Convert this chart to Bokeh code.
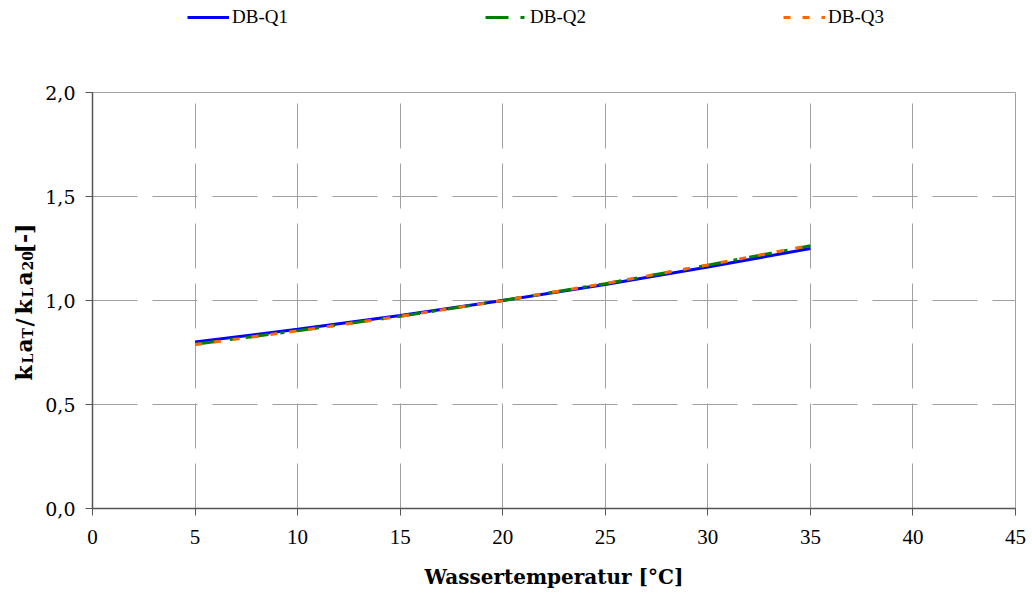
import math
from bokeh.plotting import figure
from bokeh.layouts import column, row
from bokeh.models import Legend, LegendItem, Label, FixedTicker, Range1d
from bokeh.embed import file_html
from bokeh.resources import INLINE

# ---- data ----
temperature = [5, 10, 15, 20, 25, 30, 35]
db_q1 = [0.800, 0.862, 0.928, 1.000, 1.077, 1.161, 1.250]
db_q2 = [0.790, 0.855, 0.924, 1.000, 1.081, 1.170, 1.263]
db_q3 = [0.788, 0.854, 0.924, 1.000, 1.082, 1.171, 1.265]
series_names = ["DB-Q1", "DB-Q2", "DB-Q3"]
x_ticks = [0, 5, 10, 15, 20, 25, 30, 35, 40, 45]
y_ticks = [0.0, 0.5, 1.0, 1.5, 2.0]
y_tick_labels = ["0,0", "0,5", "1,0", "1,5", "2,0"]
x_title = "Wassertemperatur [°C]"
y_title_pieces = ["k", "L", "a", "T", "/", "k", "L", "a", "20", "[-]"]
y_title_is_sub = [False, True, False, True, False, False, True, False, True, False]

colors = ["#0000ff", "#008000", "#ff6600"]
dashes = ["solid", "23 12 4 12", "7 12"]

W, H = 1032, 597
TOP_H = 40
LEFT_W = 42
FRAME_L, FRAME_R, FRAME_T, FRAME_B = 92, 1015, 92, 508
# where each piece of the y title begins (canvas pixels, text reads upward)
y_title_starts = [380, 363, 352, 338, 326, 314, 297, 285, 270, 253]


def bare_figure(w, h):
    fig = figure(width=w, height=h, output_backend="svg", toolbar_location=None,
                 x_range=Range1d(0, 1), y_range=Range1d(0, 1),
                 x_axis_type=None, y_axis_type=None, min_border=0)
    fig.grid.visible = False
    fig.outline_line_color = None
    fig.background_fill_color = "white"
    fig.border_fill_color = "white"
    return fig


# ---- main chart ----
p = figure(width=W - LEFT_W, height=H - TOP_H, output_backend="svg", toolbar_location=None,
           x_range=Range1d(0, 45), y_range=Range1d(0, 2),
           min_border_left=FRAME_L - LEFT_W, min_border_right=W - FRAME_R,
           min_border_top=FRAME_T - TOP_H, min_border_bottom=H - FRAME_B)
p.background_fill_color = "white"
p.border_fill_color = "white"
p.outline_line_color = "#a0a0a0"
p.outline_line_width = 1

for ax in (p.xaxis[0], p.yaxis[0]):
    ax.axis_line_color = "#555555"
    ax.axis_line_width = 1.5
    ax.major_tick_line_color = "#555555"
    ax.major_tick_line_width = 1
    ax.major_tick_out = 7
    ax.major_tick_in = 0
    ax.minor_tick_line_color = None
    ax.major_label_text_color = "black"

p.xaxis.ticker = FixedTicker(ticks=x_ticks)
p.yaxis.ticker = FixedTicker(ticks=y_ticks)
p.yaxis.major_label_overrides = {t: l for t, l in zip(y_ticks, y_tick_labels)}
p.xaxis.major_label_text_font = "Liberation Serif"
p.xaxis.major_label_text_font_size = "21px"
p.xaxis.major_label_standoff = 14
p.yaxis.major_label_text_font = "DejaVu Serif"
p.yaxis.major_label_text_font_size = "19px"
p.yaxis.major_label_standoff = 10

p.xaxis.axis_label = x_title
p.xaxis.axis_label_text_font = "DejaVu Serif"
p.xaxis.axis_label_text_font_style = "bold"
p.xaxis.axis_label_text_font_size = "20px"
p.xaxis.axis_label_text_color = "black"
p.xaxis.axis_label_standoff = 18

for g in (p.xgrid[0], p.ygrid[0]):
    g.grid_line_color = "#a0a0a0"
    g.grid_line_dash = "45 15"
    g.grid_line_width = 1
p.xgrid.ticker = FixedTicker(ticks=x_ticks)
p.ygrid.ticker = FixedTicker(ticks=y_ticks)

for ys, c, d in zip([db_q1, db_q2, db_q3], colors, dashes):
    p.line(temperature, ys, line_color=c, line_width=3, line_dash=d)

# ---- legend strip on top ----
top = bare_figure(W, TOP_H)
legend_renderers = []
for ys, c, d in zip([db_q1, db_q2, db_q3], colors, dashes):
    # same series, outside this strip's visible range: only the legend samples show
    legend_renderers.append(top.line(temperature, ys, line_color=c, line_width=3, line_dash=d))
legend = Legend(items=[LegendItem(label=n, renderers=[r]) for n, r in zip(series_names, legend_renderers)],
                orientation="horizontal", location=(187, TOP_H - 28),
                glyph_width=42, glyph_height=20, label_height=20, label_width=253,
                label_standoff=3, spacing=0, padding=0, margin=0,
                border_line_color=None, background_fill_alpha=0,
                label_text_font="Liberation Serif", label_text_font_size="19px",
                label_text_color="black")
top.add_layout(legend, "center")

# ---- y title strip on the left (frame aligned with main frame) ----
left = bare_figure(LEFT_W, H - TOP_H)
big, small = 22, 14
for txt, sub, start in zip(y_title_pieces, y_title_is_sub, y_title_starts):
    size = small if sub else big
    left.add_layout(Label(x=27 if sub else 23, y=FRAME_B - start, x_units="screen", y_units="screen",
                          text=txt, angle=math.pi / 2, text_align="left", text_baseline="alphabetic",
                          text_font="DejaVu Serif", text_font_style="bold",
                          text_font_size=f"{size}px", text_color="black"))

layout = column(top, row(left, p, spacing=0), spacing=0)
open("out.html", "w").write(file_html(layout, INLINE))
